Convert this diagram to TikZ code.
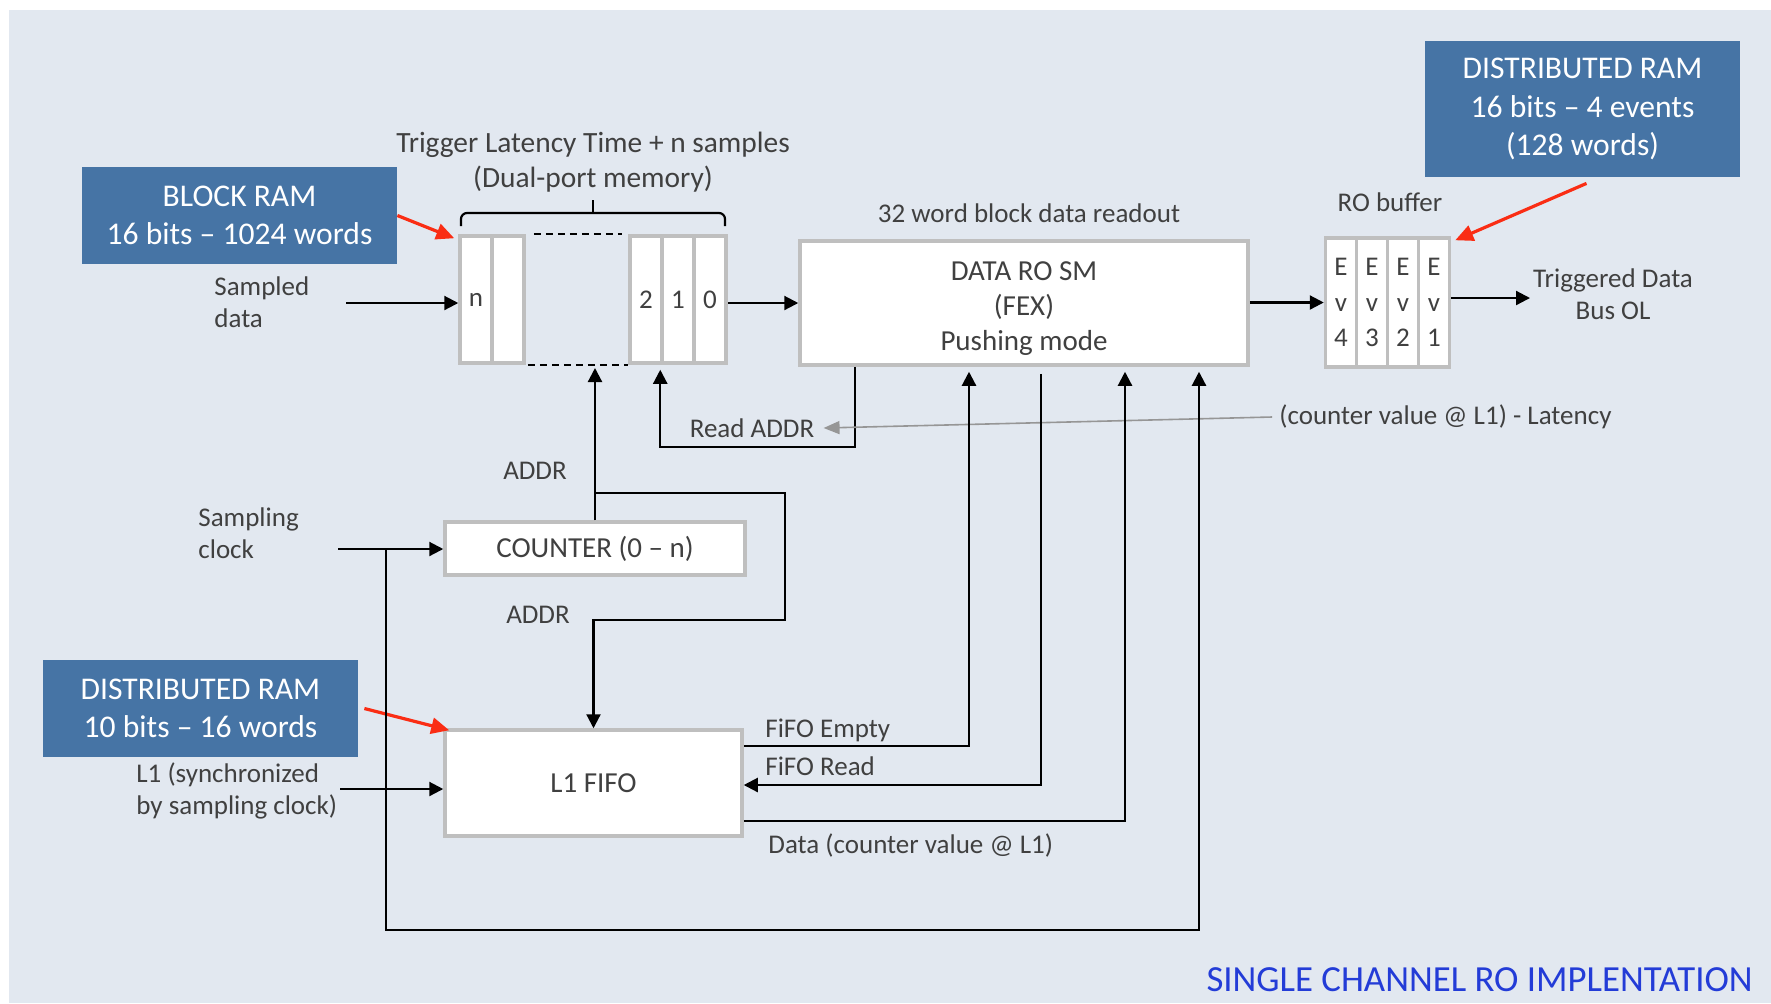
\documentclass[tikz,border=0pt]{standalone}
\usepackage{fontspec}
\setmainfont{Carlito}
\usepackage{xcolor}
\usepackage{tikz}
\usetikzlibrary{positioning, arrows.meta, calc}

\definecolor{bgblue}{RGB}{226,232,240}
\definecolor{ramblue}{RGB}{70,116,165}
\definecolor{boxgray}{RGB}{191,191,191}
\definecolor{textgray}{RGB}{64,64,64}
\definecolor{titleblue}{RGB}{35,60,215}
\definecolor{callred}{RGB}{250,45,20}
\definecolor{hintgray}{RGB}{150,150,150}

\begin{document}
\begin{tikzpicture}[x=0.5pt, y=-0.5pt,
    every node/.style={text=textgray, font=\fontsize{13.5}{16}\selectfont, inner sep=0pt},
    ramnote/.style={fill=ramblue, text=white, font=\fontsize{15.8}{19.2}\selectfont, align=center, minimum width=157.5pt},
    block/.style={draw=boxgray, line width=1.75pt, fill=white, font=\fontsize{14.5}{17.5}\selectfont, align=center},
    cell/.style={draw=boxgray, line width=1.75pt, fill=white, minimum width=16pt, minimum height=63.5pt},
    evcell/.style={cell, minimum width=15.5pt, minimum height=64.5pt, align=center, font=\fontsize{13.5}{17.75}\selectfont},
    plainwire/.style={line width=1.1pt},
    wire/.style={line width=1.1pt, -{Triangle[length=7pt, width=7pt]}},
    pointer/.style={callred, line width=1.6pt, -{Triangle[length=9pt, width=8pt]}},
    hint/.style={hintgray, line width=0.8pt, -{Triangle[length=8pt, width=6.5pt]}}]

          \useasboundingbox (0,0) rectangle (1771,1003);
          \fill[bgblue] (9,10) rectangle (1771,1003);

          \node[ramnote, minimum height=48.5pt] (blockram) at (239.5,215.5) {BLOCK RAM\\16 bits – 1024 words};
          \node[ramnote, minimum height=68pt] (robufram) at (1582.5,109) {DISTRIBUTED RAM\\16 bits – 4 events\\(128 words)};
          \node[ramnote, minimum height=48.5pt] (fiforam) at (200.5,708.5) {DISTRIBUTED RAM\\10 bits – 16 words};

          \node[cell] (celln) at (476,299.5) {n};
          \node[cell] (cellm) at (508,299.5) {};
          \node[cell] (cell2) at (646,299.5) {2};
          \node[cell] (cell1) at (678,299.5) {1};
          \node[cell] (cell0) at (710,299.5) {0};

          \draw[plainwire, dash pattern=on 3.5pt off 2.5pt] ([xshift=4pt]cellm.north east) -- ([xshift=-3pt]cell2.north west);
          \draw[plainwire, dash pattern=on 3.5pt off 2.5pt] ([xshift=1pt]cellm.south east) -- (cell2.south west);

          \coordinate (bracetip) at (593,200);
          \draw[plainwire, rounded corners=3pt] (461,226) |- (593,213) -| (725,226);
          \draw[plainwire] (593,213) -- (bracetip);
          \node[align=center, font=\fontsize{14.7}{17.5}\selectfont] (window) at (593,162) {Trigger Latency Time + n samples\\(Dual-port memory)};

          \node[align=left, anchor=west] (sampled) at (214,302.5) {Sampled\\data};
          \coordinate (datain) at (346,303);
          \draw[wire] (datain) -- (datain -| celln.west);

          \node[block, minimum width=224pt, minimum height=62pt] (dataro) at (1024,303) {};
          \node[align=center, font=\fontsize{14.5}{17.5}\selectfont] (datarotext) at (1024,309) {DATA RO SM\\(FEX)\\Pushing mode};
          \node (readout) at (1029,213) {32 word block data readout};
          \draw[wire] (cell0.east |- dataro.west) -- (dataro.west);

          \node[evcell] (ev4) at (1341,302.5) {E\\v\\4};
          \node[evcell] (ev3) at (1372,302.5) {E\\v\\3};
          \node[evcell] (ev2) at (1403,302.5) {E\\v\\2};
          \node[evcell] (ev1) at (1434,302.5) {E\\v\\1};
          \node (robuflabel) at (1390,202) {RO buffer};
          \draw[wire] (dataro.east |- ev4.west) -- (ev4.west);

          \coordinate (busout) at (1530,298);
          \draw[wire] (ev1.east |- busout) -- (busout);
          \node[align=center] (trigdata) at (1613,294) {Triggered Data\\Bus OL};

          \node[block, minimum width=150pt, minimum height=26.5pt] (counter) at (595,548.5) {COUNTER (0 – n)};
          \node[block, minimum width=148.5pt, minimum height=53pt] (fifo) at (593.5,783) {L1 FIFO};

          \draw[pointer] (blockram.east) -- ([xshift=-2pt, yshift=-2pt]celln.north west);
          \draw[pointer] ([shift={(2pt,-3pt)}]robufram.south) -- ([xshift=2pt, yshift=-2pt]ev1.north east);
          \draw[pointer] ([xshift=3pt]fiforam.east) -- ([xshift=3pt, yshift=-1pt]fifo.north west);

          \coordinate (memaddr) at (595,368);
          \coordinate (addrsplit) at (595,493);
          \coordinate (addrturn) at (785,620);
          \draw[wire] (counter.north) -- (memaddr);
          \draw[wire] (addrsplit) -| (addrturn) -| (fifo.north);
          \node (addrup) at (535,471) {ADDR};
          \node (addrdown) at (538,615) {ADDR};

          \coordinate (rdaddr) at (855,447);
          \draw[wire] (rdaddr |- dataro.south) -- (rdaddr) -| ([yshift=-2.5pt]cell1.south west);
          \node (readaddr) at (752,428) {Read ADDR};
          \node[anchor=west] (latency) at (1279,417) {(counter value @ L1) - Latency};
          \draw[hint] ([xshift=-3.5pt]latency.west) -- ([xshift=4.5pt]readaddr.east);

          \node[align=left, anchor=west] (sampling) at (198,533) {Sampling\\clock};
          \coordinate (clkin) at (338,549);
          \coordinate (clktap) at (386,549);
          \coordinate (clkup) at (1199,930);
          \draw[wire] (clkin) -- (clkin -| counter.west);
          \draw[wire, shorten >=2.5pt] (clktap) |- (clkup) -- (clkup |- dataro.south);

          \node[align=left, anchor=west] (l1) at (136,790.5) {L1 (synchronized\\by sampling clock)};
          \coordinate (l1in) at (340,789);
          \draw[wire] (l1in) -- (l1in -| fifo.west);

          \coordinate (emptyup) at (969,746);
          \draw[wire, shorten >=2.5pt] (fifo.east |- emptyup) -- (emptyup) -- (emptyup |- dataro.south);
          \node[anchor=west] (emptylbl) at (765,730) {FiFO Empty};

          \coordinate (readdown) at (1041,785);
          \draw[wire, shorten <=3.5pt] (readdown |- dataro.south) -- (readdown) -- (readdown -| fifo.east);
          \node[anchor=west] (readlbl) at (765,766) {FiFO Read};

          \coordinate (dataup) at (1125,821);
          \draw[wire, shorten >=2.5pt] (fifo.east |- dataup) -- (dataup) -- (dataup |- dataro.south);
          \node[anchor=west] (datalbl) at (768,845) {Data (counter value @ L1)};

          \node[anchor=east, text=titleblue, font=\fontsize{18.4}{22}\selectfont] (title) at (1753,980) {SINGLE CHANNEL RO IMPLENTATION};
        \end{tikzpicture}
\end{document}
